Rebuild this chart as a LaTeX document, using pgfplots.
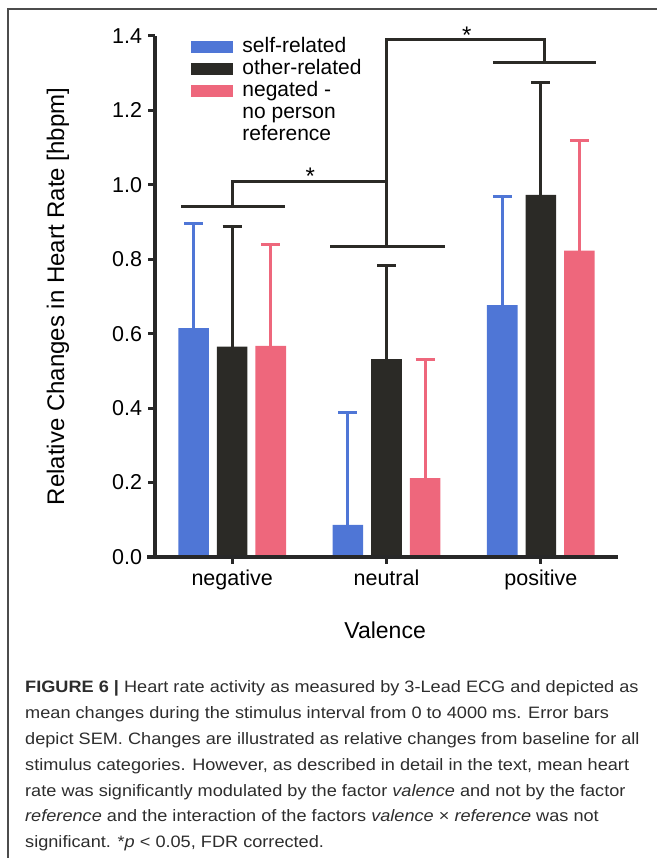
\documentclass[border=0pt]{standalone}
\usepackage{fontspec}
\setmainfont{Liberation Sans}
\newfontfamily\capfont[FakeStretch=1.1]{Liberation Sans}
\usepackage{pgfplots}
\usepackage{pgfplotstable}
\pgfplotsset{compat=1.18}
\definecolor{cblue}{RGB}{79,118,214}
\definecolor{cblack}{RGB}{43,42,38}
\definecolor{cpink}{RGB}{238,103,124}
\definecolor{caxis}{RGB}{40,40,40}
\definecolor{ccap}{RGB}{45,45,45}

% x = bar position (category index + offset), y = mean, e = SEM
\pgfplotstableread{
x y e
-0.25 0.615 0.282
0.75 0.086 0.302
1.75 0.677 0.292
}\selfrel
\pgfplotstableread{
x y e
0 0.565 0.323
1 0.532 0.252
2 0.973 0.301
}\otherrel
\pgfplotstableread{
x y e
0.25 0.567 0.273
1.25 0.212 0.320
2.25 0.823 0.295
}\negated

\begin{document}
\begin{tikzpicture}[x=1pt,y=1pt]
\useasboundingbox (0,0) rectangle (657,858);
\draw[line width=1.5pt, color=black!70] (8,0) -- (8,849) -- (657,849);
\begin{axis}[
  at={(155pt,301pt)}, anchor=south west,
  scale only axis, width=463pt, height=521pt,
  xmin=-0.5, xmax=2.5, ymin=0, ymax=1.4,
  clip=false, axis on top,
  axis lines=left,
  x axis line style={-, line width=3.5pt, color=caxis, shorten <=-8pt},
  y axis line style={-, line width=3.5pt, color=caxis},
  xtick={0,1,2}, xticklabels={negative,neutral,positive},
  ytick={0,0.2,0.4,0.6,0.8,1.0,1.2,1.4},
  yticklabel style={/pgf/number format/.cd, fixed, fixed zerofill, precision=1, /tikz/.cd, xshift=-2.5pt},
  xticklabel style={yshift=-2pt},
  /pgf/number format/assume math mode=true,
  tick align=outside, major tick length=7pt,
  tick style={line width=3pt, color=caxis},
  tick label style={font=\fontsize{21.5}{24}\selectfont, color=black},
  xlabel={Valence}, ylabel={Relative Changes in Heart Rate [hbpm]},
  xlabel style={at={(rel axis cs:0.497,-0.140)}, anchor=center, font=\fontsize{23}{26}\selectfont},
  ylabel style={at={(rel axis cs:-0.2095,0.5)}, anchor=center, font=\fontsize{24}{26}\selectfont},
  legend style={at={(rel axis cs:0.0778,0.997)}, anchor=north west, draw=none, fill=none,
    inner sep=0pt, outer sep=0pt, row sep=0pt, column sep=10pt,
    font=\fontsize{21}{22}\selectfont,
    nodes={inner sep=0pt, text height=15pt, text depth=7pt}},
  legend cell align=left,
]
\addlegendimage{legend image code/.code={\fill[cblue] (0pt,-4pt) rectangle (41pt,7pt);}}
\addlegendimage{legend image code/.code={\fill[cblack] (0pt,-4pt) rectangle (41pt,7pt);}}
\addlegendimage{legend image code/.code={\fill[cpink] (0pt,-4pt) rectangle (41pt,7pt);}}
\addlegendimage{empty legend}
\addlegendimage{empty legend}
\legend{self-related,other-related,negated -,no person,reference}

\addplot[ybar, bar width=0.198, bar shift=0, fill=cblue, draw=none,
  error bars/.cd, y dir=plus, y explicit,
  error bar style={line width=3pt, color=cblue},
  error mark options={rotate=90, line width=3pt, color=cblue, mark size=9.5pt}]
  table[x=x, y=y, y error=e] {\selfrel};
\addplot[ybar, bar width=0.198, bar shift=0, fill=cblack, draw=none,
  error bars/.cd, y dir=plus, y explicit,
  error bar style={line width=3pt, color=cblack},
  error mark options={rotate=90, line width=3pt, color=cblack, mark size=9.5pt}]
  table[x=x, y=y, y error=e] {\otherrel};
\addplot[ybar, bar width=0.198, bar shift=0, fill=cpink, draw=none,
  error bars/.cd, y dir=plus, y explicit,
  error bar style={line width=3pt, color=cpink},
  error mark options={rotate=90, line width=3pt, color=cpink, mark size=9.5pt}]
  table[x=x, y=y, y error=e] {\negated};

% significance brackets
\addplot[sharp plot, no marks, line width=3pt, color=cblack] coordinates {(-0.33,0.942) (0.34,0.942)};
\addplot[sharp plot, no marks, line width=3pt, color=cblack, line join=miter] coordinates {(0,0.942) (0,1.009) (1,1.009) (1,0.834)};
\addplot[sharp plot, no marks, line width=3pt, color=cblack] coordinates {(0.635,0.834) (1.38,0.834)};
\addplot[sharp plot, no marks, line width=3pt, color=cblack, line join=miter] coordinates {(1,0.834) (1,1.39) (2.025,1.39) (2.025,1.329)};
\addplot[sharp plot, no marks, line width=3pt, color=cblack] coordinates {(1.69,1.329) (2.36,1.329)};
\node[anchor=base, font=\fontsize{24}{26}\selectfont, inner sep=0pt] at (axis cs:0.506,1.0) {*};
\node[anchor=base, font=\fontsize{24}{26}\selectfont, inner sep=0pt] at (axis cs:1.52,1.381) {*};
\end{axis}

\begin{scope}[every node/.style={anchor=base west, inner sep=0pt, font=\capfont\fontsize{16.5}{26}\selectfont, text=ccap}]
\node at (25,165) {\textbf{FIGURE 6 |} Heart rate activity as measured by 3-Lead ECG and depicted as};
\node at (25,139) {mean changes during the stimulus interval from 0 to 4000 ms. Error bars};
\node at (25,113) {depict SEM. Changes are illustrated as relative changes from baseline for all};
\node at (25,87) {stimulus categories. However, as described in detail in the text, mean heart};
\node at (25,61) {rate was significantly modulated by the factor \textit{valence} and not by the factor};
\node at (25,36) {\textit{reference} and the interaction of the factors \textit{valence} × \textit{reference} was not};
\node at (25,10) {significant. *\textit{p} < 0.05, FDR corrected.};
\end{scope}
\end{tikzpicture}
\end{document}
